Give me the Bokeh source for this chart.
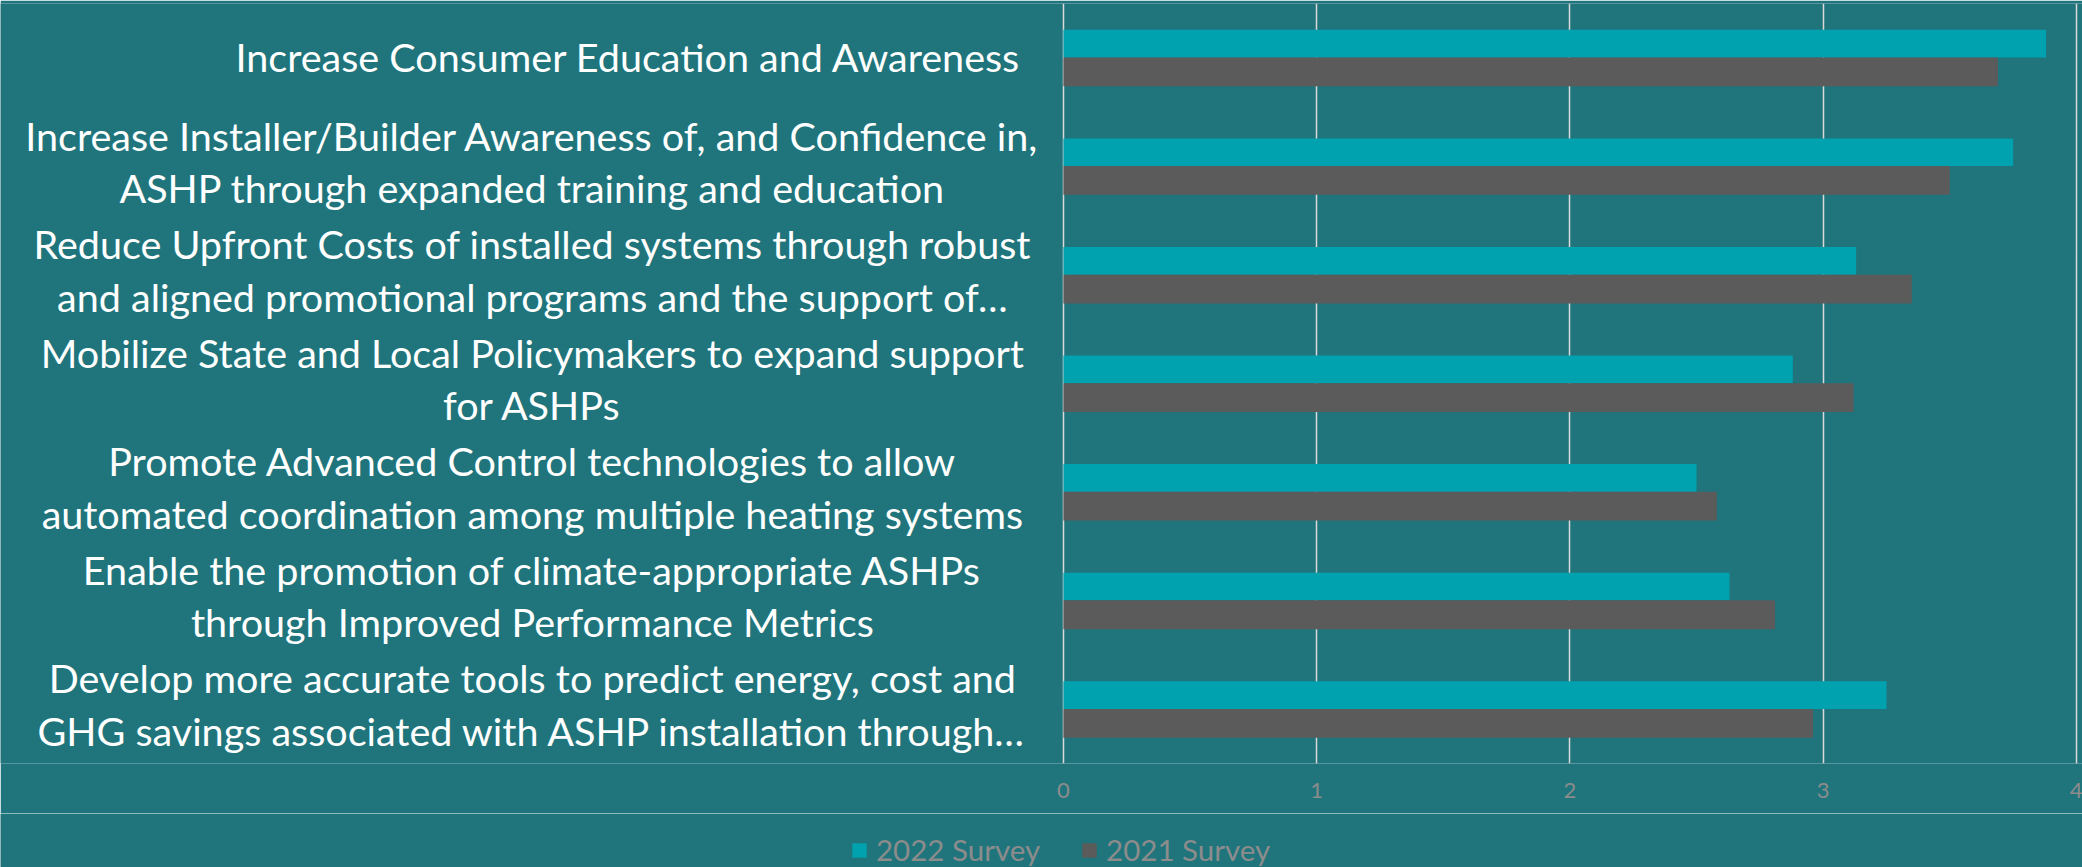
from bokeh.plotting import figure
from bokeh.models import (ColumnDataSource, FactorRange, Range1d, FixedTicker,
                          Legend, LegendItem)
from bokeh.layouts import column
from bokeh.core.properties import value
from bokeh.transform import dodge
from bokeh.embed import file_html
from bokeh.resources import INLINE

categories = [
    "Increase Consumer Education and Awareness",
    "Increase Installer/Builder Awareness of, and Confidence in,\nASHP through expanded training and education",
    "Reduce Upfront Costs of installed systems through robust\nand aligned promotional programs and the support of\u2026",
    "Mobilize State and Local Policymakers to expand support\nfor ASHPs",
    "Promote Advanced Control technologies to allow\nautomated coordination among multiple heating systems",
    "Enable the promotion of climate-appropriate ASHPs\nthrough Improved Performance Metrics",
    "Develop more accurate tools to predict energy, cost and\nGHG savings associated with ASHP installation through\u2026",
]
survey_2022 = [3.88, 3.75, 3.13, 2.88, 2.50, 2.63, 3.25]
survey_2021 = [3.69, 3.50, 3.35, 3.12, 2.58, 2.81, 2.96]
x_ticks = [0, 1, 2, 3, 4]
series_names = ["2022 Survey", "2021 Survey"]

# ---- styling / layout ----
BG = "#20757c"
CYAN = "#00a2b0"
GRAY = "#5b5b5b"
FONT = "Lato"
X_MIN, X_MAX = -4.197, 4.024   # room on the left of the value axis for the category labels
LABEL_RIGHT_X = -0.166         # single-line label, right aligned
LABEL_CENTER_X = -2.097        # wrapped labels, centred lines

source = ColumnDataSource(data=dict(cat=categories, v22=survey_2022, v21=survey_2021))
src_first = ColumnDataSource(data=dict(cat=categories[:1]))
src_rest = ColumnDataSource(data=dict(cat=categories[1:]))

y_factors = list(reversed(categories))

p = figure(width=2082, height=813, output_backend="svg", toolbar_location=None,
           y_range=FactorRange(*y_factors, range_padding=0),
           x_range=Range1d(X_MIN, X_MAX),
           min_border_left=0, min_border_right=0, min_border_top=3, min_border_bottom=50)

p.background_fill_color = BG
p.border_fill_color = BG
p.outline_line_color = None

r22 = p.hbar(y=dodge("cat", 0.13, range=p.y_range), right="v22", height=0.255, left=0,
             source=source, color=CYAN, line_color=None)
r21 = p.hbar(y=dodge("cat", -0.13, range=p.y_range), right="v21", height=0.265, left=0,
             source=source, color=GRAY, line_color=None)

label_kw = dict(text="cat", text_color="white", text_font=value(FONT),
                text_font_size="39.5px", text_baseline="middle", text_line_height=1.12)
p.text(x=LABEL_RIGHT_X, y="cat", source=src_first, text_align="right", y_offset=-1, **label_kw)
p.text(x=LABEL_CENTER_X, y="cat", source=src_rest, text_align="center", y_offset=-5, **label_kw)

# x axis
p.xaxis.ticker = FixedTicker(ticks=x_ticks)
p.xaxis.axis_line_color = None
p.xaxis.major_tick_line_color = None
p.xaxis.minor_tick_line_color = None
p.xaxis.major_tick_out = 0
p.xaxis.major_label_text_color = "#8c8c8c"
p.xaxis.major_label_text_font = FONT
p.xaxis.major_label_text_font_size = "22px"
p.xaxis.major_label_standoff = 19

p.yaxis.visible = False

p.xgrid.grid_line_color = "#d9d9d9"
p.xgrid.grid_line_width = 1.5
p.xgrid.ticker = FixedTicker(ticks=x_ticks)
p.ygrid.grid_line_color = None

# ---- legend strip under the chart ----
leg = figure(width=2082, height=54, output_backend="svg", toolbar_location=None,
             y_range=FactorRange(*y_factors), x_range=Range1d(X_MIN, X_MAX),
             min_border_left=0, min_border_right=0, min_border_top=0, min_border_bottom=0)
leg.background_fill_color = BG
leg.border_fill_color = BG
leg.outline_line_color = None
leg.axis.visible = False
leg.grid.visible = False
l22 = leg.hbar(y="cat", right="v22", height=0.26, source=source, color=CYAN,
               line_color=None, visible=False)
l21 = leg.hbar(y="cat", right="v21", height=0.26, source=source, color=GRAY,
               line_color=None, visible=False)

legend = Legend(items=[LegendItem(label=series_names[0], renderers=[l22]),
                       LegendItem(label=series_names[1], renderers=[l21])],
                orientation="horizontal", location=(850, 0),
                background_fill_alpha=0, border_line_color=None,
                inactive_fill_alpha=0,
                label_text_color="#8c8c8c", label_text_font=FONT,
                label_text_font_size="29.5px", glyph_width=18, glyph_height=18,
                spacing=40, padding=0, margin=0, label_standoff=8)
leg.add_layout(legend, "center")

layout = column(p, leg, spacing=0)

open("out.html", "w").write(file_html(layout, INLINE))
